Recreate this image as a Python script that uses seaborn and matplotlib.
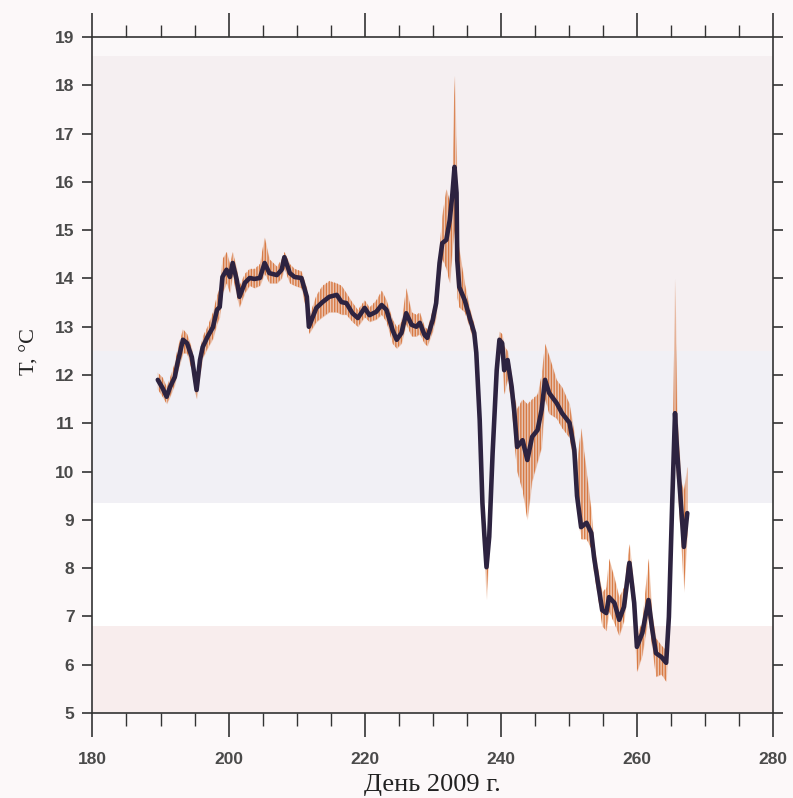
import numpy as np
import pandas as pd
import matplotlib
matplotlib.use("Agg")
import matplotlib.pyplot as plt
from matplotlib.ticker import MultipleLocator
import seaborn as sns

# ------------------------------------------------------------------
# data: smoothed temperature + raw envelope
# ------------------------------------------------------------------
days = [189.6, 190.3, 190.9, 191.4, 192.1, 192.5, 193.3, 193.9, 194.6, 195.3,
        195.8, 196.2, 196.9, 197.7, 198.3, 198.7, 199.1, 199.7, 200.2, 200.6,
        201.2, 201.6, 202.4, 203.1, 203.8, 204.6, 205.3, 206.0, 207.1, 207.8,
        208.2, 209.0, 209.7, 210.7, 211.5, 211.8, 212.9, 213.8, 214.8, 215.9,
        216.6, 217.3, 218.2, 219.0, 220.0, 220.7, 221.7, 222.5, 223.2, 224.1,
        224.7, 225.4, 226.1, 226.9, 227.6, 228.1, 228.8, 229.2, 230.0, 230.5,
        231.0, 231.4, 232.0, 232.5, 232.9, 233.2, 233.5, 233.6, 233.9, 234.7,
        235.4, 236.1, 236.4, 236.9, 237.3, 237.6, 237.9, 238.3, 238.8, 239.4,
        239.8, 240.2, 240.5, 241.0, 241.6, 242.0, 242.4, 243.2, 243.9, 244.6,
        245.4, 246.0, 246.5, 247.1, 248.2, 249.0, 250.1, 250.8, 251.2, 251.8,
        252.6, 253.3, 253.7, 254.5, 254.9, 255.5, 255.9, 256.7, 257.4, 258.1,
        258.9, 259.6, 260.0, 260.8, 261.7, 262.2, 262.8, 263.6, 264.3, 264.7,
        265.2, 265.6, 265.9, 266.5, 266.9, 267.4]

temp_smooth = [11.90, 11.73, 11.55, 11.75, 11.96, 12.25, 12.73, 12.66, 12.37, 11.69,
               12.31, 12.58, 12.79, 12.99, 13.35, 13.41, 14.03, 14.18, 14.03, 14.32,
               13.97, 13.62, 13.91, 14.01, 13.99, 14.01, 14.32, 14.11, 14.07, 14.18,
               14.44, 14.11, 14.03, 14.01, 13.62, 13.00, 13.39, 13.51, 13.62, 13.66,
               13.51, 13.49, 13.28, 13.18, 13.39, 13.24, 13.31, 13.45, 13.35, 12.93,
               12.73, 12.87, 13.28, 13.04, 13.00, 13.08, 12.83, 12.77, 13.14, 13.49,
               14.32, 14.73, 14.80, 15.21, 15.77, 16.31, 15.77, 14.38, 13.82, 13.55,
               13.20, 12.87, 12.46, 11.07, 9.35, 8.65, 8.02, 8.65, 10.39, 12.10,
               12.73, 12.66, 12.10, 12.31, 11.75, 11.21, 10.51, 10.65, 10.24, 10.72,
               10.86, 11.28, 11.90, 11.63, 11.42, 11.21, 11.01, 10.45, 9.50, 8.85,
               8.94, 8.73, 8.23, 7.49, 7.13, 7.07, 7.40, 7.28, 6.93, 7.20,
               8.11, 7.28, 6.37, 6.66, 7.34, 6.78, 6.24, 6.16, 6.04, 6.99,
               9.41, 11.21, 10.45, 9.27, 8.44, 9.14]

raw_high = [12.05, 11.95, 11.75, 11.95, 12.25, 12.55, 12.95, 12.85, 12.55, 11.90,
            12.50, 12.80, 13.00, 13.30, 13.65, 13.80, 14.40, 14.55, 14.30, 14.55,
            14.20, 13.85, 14.10, 14.20, 14.20, 14.30, 14.85, 14.40, 14.25, 14.40,
            14.55, 14.30, 14.20, 14.15, 13.80, 13.20, 13.65, 13.85, 13.95, 13.90,
            13.85, 13.70, 13.50, 13.35, 13.55, 13.40, 13.55, 13.75, 13.55, 13.15,
            13.00, 13.10, 13.80, 13.30, 13.25, 13.30, 13.00, 12.95, 13.35, 13.80,
            14.60, 15.30, 15.85, 15.60, 16.10, 18.20, 16.50, 15.10, 14.60, 13.90,
            13.40, 13.05, 12.65, 11.25, 9.55, 8.85, 8.20, 8.85, 10.60, 12.35,
            12.90, 12.85, 12.60, 12.50, 12.00, 11.55, 11.30, 11.50, 11.40, 11.50,
            11.60, 12.00, 12.65, 12.40, 11.90, 11.75, 11.40, 10.80, 10.20, 10.90,
            10.00, 9.20, 8.50, 7.80, 7.50, 7.60, 8.20, 7.80, 7.40, 7.60,
            8.50, 7.60, 6.60, 6.90, 8.20, 7.10, 6.55, 6.40, 6.30, 7.30,
            9.80, 14.00, 11.20, 9.80, 9.60, 10.10]

raw_low = [11.70, 11.55, 11.40, 11.55, 11.80, 12.05, 12.45, 12.45, 12.10, 11.50,
           12.00, 12.35, 12.55, 12.75, 13.05, 13.20, 13.70, 13.90, 13.70, 14.05,
           13.65, 13.40, 13.70, 13.85, 13.80, 13.85, 14.10, 13.90, 13.90, 14.00,
           14.20, 13.90, 13.85, 13.80, 13.30, 12.85, 13.10, 13.20, 13.30, 13.30,
           13.25, 13.25, 13.10, 13.00, 13.20, 13.10, 13.15, 13.25, 13.10, 12.65,
           12.55, 12.65, 13.05, 12.80, 12.80, 12.85, 12.65, 12.60, 12.90, 13.20,
           14.00, 14.40, 14.20, 13.90, 14.60, 15.00, 14.20, 13.60, 13.40, 13.30,
           13.00, 12.65, 12.25, 10.85, 9.10, 8.40, 7.35, 8.40, 10.20, 11.90,
           12.45, 12.40, 11.60, 11.90, 11.40, 10.60, 10.00, 9.60, 9.00, 9.80,
           10.20, 10.50, 11.50, 11.20, 11.10, 10.90, 10.70, 10.10, 9.20, 8.60,
           8.60, 8.40, 7.90, 7.20, 6.80, 6.70, 7.10, 6.85, 6.60, 6.90,
           7.80, 6.90, 5.85, 6.20, 7.00, 6.40, 5.75, 5.80, 5.65, 6.60,
           9.00, 10.80, 9.80, 8.60, 7.50, 8.70]

x_ticks = [180, 200, 220, 240, 260, 280]
y_ticks = list(range(5, 20))

df = pd.DataFrame({"day": days, "T": temp_smooth,
                   "hi": raw_high, "lo": raw_low})

# ------------------------------------------------------------------
# figure
# ------------------------------------------------------------------
sns.set_theme(style="ticks")
plt.rcParams["font.family"] = ["Liberation Sans", "DejaVu Sans"]
plt.rcParams["hatch.linewidth"] = 1.0

fig = plt.figure(figsize=(7.93, 7.98), dpi=100, facecolor="#fcf8f9")
ax = fig.add_axes([0.1166, 0.1065, 0.8582, 0.8471])
ax.set_facecolor("#f5eff1")

# scan-like background bands
ax.axhspan(18.6, 19, color="#fbf8f9", lw=0, zorder=0)
ax.axhspan(9.35, 12.5, color="#f1f0f5", lw=0, zorder=0)
ax.axhspan(6.8, 9.35, color="#ffffff", lw=0, zorder=0)
ax.axhspan(5, 6.8, color="#f8eded", lw=0, zorder=0)

orange = "#d56d30"
ax.fill_between(df["day"], df["lo"], df["hi"], color=orange, alpha=0.30,
                lw=0, zorder=2)
ax.fill_between(df["day"], df["lo"], df["hi"], facecolor="none",
                edgecolor=orange, hatch="||||||", lw=0, alpha=0.85, zorder=2)

sns.lineplot(data=df, x="day", y="T", ax=ax, color="#2d2340", lw=3.3,
             zorder=3)

ax.set_xlim(180, 280)
ax.set_ylim(5, 19)
ax.set_xticks(x_ticks)
ax.xaxis.set_minor_locator(MultipleLocator(5))
ax.set_yticks(y_ticks)

ax.tick_params(axis="x", which="major", direction="out", length=17, width=1.2,
               top=True, bottom=True, labelsize=12.5, pad=11, colors="#333333")
ax.tick_params(axis="x", which="minor", direction="out", length=9, width=1.0,
               top=True, bottom=True, colors="#333333")
ax.tick_params(axis="y", which="major", direction="out", length=7, width=1.2,
               left=True, right=True, labelsize=12.5, pad=6, colors="#333333")
for lab in ax.get_xticklabels() + ax.get_yticklabels():
    lab.set_fontweight("bold")
    lab.set_color("#4a4a4a")

for s in ax.spines.values():
    s.set_color("#333333")
    s.set_linewidth(1.2)

ax.set_xlabel("День 2009 г.", family=["Liberation Serif", "DejaVu Serif"],
              fontsize=19, color="#222222")
ax.set_ylabel("T, °C", family=["Liberation Serif", "DejaVu Serif"],
              fontsize=16, color="#222222")
ax.xaxis.set_label_coords(0.5, -0.09)
ax.yaxis.set_label_coords(-0.078, 0.535)

fig.savefig("out.png", dpi=100, facecolor=fig.get_facecolor())
